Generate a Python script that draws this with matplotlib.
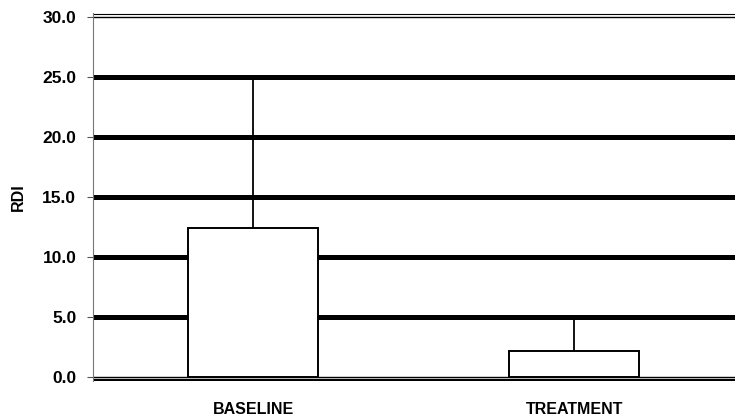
import matplotlib.pyplot as plt
import numpy as np

plt.rcParams['font.family'] = ['Liberation Sans', 'DejaVu Sans']

groups = ['BASELINE', 'TREATMENT']
rdi_mean = [12.4, 2.2]
rdi_upper = [25.0, 4.9]
y_ticks = [0, 5, 10, 15, 20, 25, 30]

x = np.arange(len(groups))
err_up = [u - m for u, m in zip(rdi_upper, rdi_mean)]

fig = plt.figure(figsize=(7.35, 4.18), dpi=100, facecolor='w')
ax = fig.add_axes([0.1265, 0.088, 0.8735, 0.8813])

# thick horizontal grid lines
for v in y_ticks[1:-1]:
    ax.axhline(v, color='black', lw=3.6, zorder=1)
# double thin lines at top and bottom
ax.axhline(30, color='black', lw=1.0, zorder=1)
ax.axhline(30.25, color='black', lw=0.8, zorder=1)
ax.axhline(0, color='black', lw=1.0, zorder=1)
ax.axhline(-0.25, color='black', lw=1.6, zorder=1)

ax.bar(x, rdi_mean, width=0.405, color='white', edgecolor='black', lw=1.4, zorder=3)
ax.errorbar(x, rdi_mean, yerr=[[0] * len(x), err_up], fmt='none',
            ecolor='black', elinewidth=1.3, capsize=0, zorder=2)

ax.set_xlim(-0.5, 1.5)
ax.set_ylim(-0.35, 30.35)
ax.set_yticks(y_ticks)
ax.set_yticklabels(['%.1f' % v for v in y_ticks], fontsize=12.5, fontweight='bold')
ax.set_xticks(x)
ax.set_xticklabels(groups, fontsize=11.5, fontweight='bold')
ax.tick_params(axis='x', length=0, pad=15)
ax.tick_params(axis='y', length=4, width=0.8, color='#555555', pad=8)
ax.set_ylabel('RDI', fontsize=11.5, fontweight='bold', labelpad=12)

for s in ['top', 'right', 'bottom']:
    ax.spines[s].set_visible(False)
ax.spines['left'].set_color('#777777')
ax.spines['left'].set_linewidth(0.8)

plt.savefig('out.png', dpi=100, facecolor='w')
plt.close()
